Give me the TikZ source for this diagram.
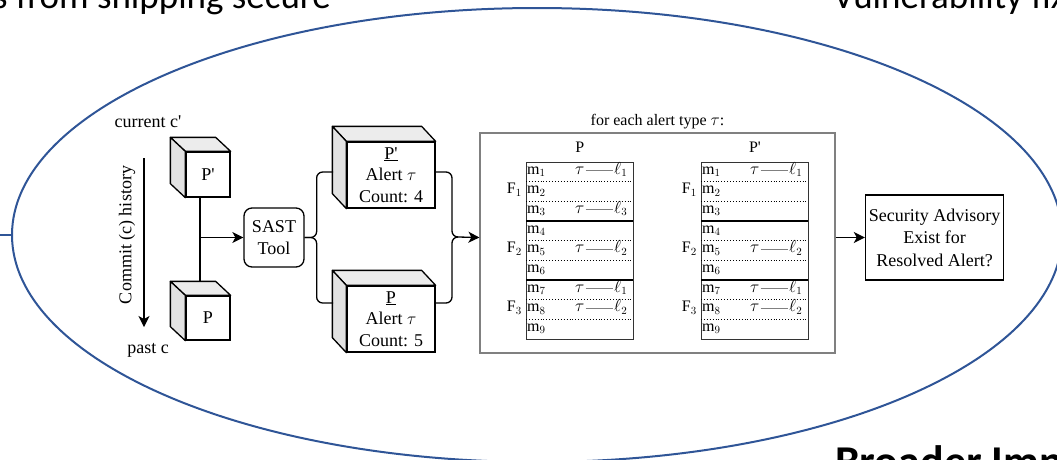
\documentclass[tikz,border=0pt]{standalone}
\usepackage{fontspec}
\setmainfont{Liberation Serif}
\newfontfamily\slidefont{Carlito}
\usetikzlibrary{arrows.meta,positioning,shapes.geometric}
\definecolor{ovalblue}{RGB}{47,85,151}
\definecolor{facegray}{RGB}{226,226,226}
\definecolor{facetop}{RGB}{236,236,236}

\begin{document}
\begin{tikzpicture}[x=1pt,y=-1pt,
    lbl/.style={font=\fontsize{18}{21.5}\selectfont},
    cell/.style={font=\fontsize{16}{18}\selectfont, inner sep=1pt},
    slide/.style={font=\slidefont\fontsize{37}{42}\selectfont, inner sep=0pt},
    front/.style={draw, fill=white, line width=1.3pt, inner sep=0pt, align=center, lbl},
    face/.style={draw, fill=facegray, line width=1.3pt, line join=round},
    wire/.style={line width=1.3pt, rounded corners=6pt},
    flow/.style={line width=1.3pt, -{Stealth[length=11pt,width=11pt,inset=3pt]}},
    tabframe/.style={draw=black!80, line width=0.8pt, minimum width=107, minimum height=177, inner sep=0pt, anchor=north west},
    link/.style={gray, line width=0.5pt},
    rowsep/.style={dotted, line width=0.9pt},
    fsep/.style={line width=2pt},
  ]
  \useasboundingbox (0,0) rectangle (1057,459);
  \clip (0,0) rectangle (1057,459);

  % slide around the figure
  \node[slide, anchor=base west] (topl) at (-7,8) {s from shipping secure};
  \node[slide, anchor=base west] (topr) at (833,8) {Vulnerability fix};
  \node[slide, font=\slidefont\bfseries\fontsize{44}{50}\selectfont, anchor=base west] (bot) at (835,476) {Broader Imp};
  \node[draw=ovalblue, line width=2pt, ellipse, minimum width=1050, minimum height=454, inner sep=0pt] (oval) at (537,235) {};
  \coordinate (stub) at (0,235);
  \draw[ovalblue, line width=2pt] (stub) -- (oval.west);

  % commit history
  \node[lbl, anchor=base] (cur) at (148,127) {current c\textquotesingle};
  \node[lbl, anchor=base] (past) at (148,353) {past c};
  \coordinate (histtop) at (144,158);
  \coordinate (histbot) at (144,327);
  \draw[flow] (histtop) -- (histbot);
  \node[lbl, rotate=90] (hist) at (127,235) {Commit (c) history};

  \node[front, minimum width=44, minimum height=45] (pnew) at (208,174.5) {P\textquotesingle};
  \draw[face, fill=facetop] (pnew.north west) -- ++(-15,-14) -- ([xshift=-15pt,yshift=14pt]pnew.north east) -- (pnew.north east) -- cycle;
  \draw[face] (pnew.north west) -- ++(-15,-14) -- ([xshift=-15pt,yshift=14pt]pnew.south west) -- (pnew.south west) -- cycle;

  \node[front, minimum width=44, minimum height=44] (pold) at (208,318) {P};
  \draw[face, fill=facetop] (pold.north west) -- ++(-15,-14) -- ([xshift=-15pt,yshift=14pt]pold.north east) -- (pold.north east) -- cycle;
  \draw[face] (pold.north west) -- ++(-15,-14) -- ([xshift=-15pt,yshift=14pt]pold.south west) -- (pold.south west) -- cycle;

  \node[draw, rounded corners=8pt, line width=1.3pt, minimum width=60, minimum height=59, align=center, lbl] (sast) at (274,237.5) {SAST\\Tool};

  \coordinate (jtop) at ([xshift=-8pt]pnew.south);
  \coordinate (jbot) at ([xshift=-8pt,yshift=14pt]pold.north);
  \draw[line width=1.3pt] (jtop) -- (jbot);
  \draw[flow] (jtop |- sast.west) -- (sast.west);

  % alert counts
  \node[front, minimum width=88, minimum height=66] (anew) at (391,175) {\underline{P\textquotesingle}\\Alert $\tau$\\Count: 4};
  \draw[face, fill=facetop] (anew.north west) -- ++(-14,-15) -- ([xshift=-14pt,yshift=15pt]anew.north east) -- (anew.north east) -- cycle;
  \draw[face] (anew.north west) -- ++(-14,-15) -- ([xshift=-14pt,yshift=15pt]anew.south west) -- (anew.south west) -- cycle;

  \node[front, minimum width=88, minimum height=66] (aold) at (391,319) {\underline{P}\\Alert $\tau$\\Count: 5};
  \draw[face, fill=facetop] (aold.north west) -- ++(-14,-15) -- ([xshift=-14pt,yshift=15pt]aold.north east) -- (aold.north east) -- cycle;
  \draw[face] (aold.north west) -- ++(-14,-15) -- ([xshift=-14pt,yshift=15pt]aold.south west) -- (aold.south west) -- cycle;

  \coordinate (anewin) at (333,172);
  \coordinate (aoldin) at (333,303);
  \coordinate (anewout) at (435,172);
  \coordinate (aoldout) at (435,303);
  \draw[wire] (sast.east) -- ([xshift=12pt]sast.east) |- (anewin);
  \draw[wire] (sast.east) -- ([xshift=12pt]sast.east) |- (aoldin);

  % per alert type comparison
  \node[draw=gray, line width=1.2pt, minimum width=355, minimum height=220, inner sep=0pt] (scan) at (657.5,243) {};
  \node[cell, above=2pt of scan] (each) {for each alert type $\tau$:};

  \draw[wire] (anewout) -| (452,237) -- (458,237);
  \draw[wire] (aoldout) -| (452,237) -- (458,237);
  \draw[flow] (458,237) -- (scan.west |- sast.east);

  \begin{scope}[shift={(526,162)}]
    \node[tabframe] (tabold) at (0,0) {};
    \node[cell, above=8pt of tabold] (hold) {P};
    \draw[rowsep] (0,19.67) -- (107,19.67);
    \draw[rowsep] (0,39.33) -- (107,39.33);
    \draw[fsep] (0,59) -- (107,59);
    \draw[rowsep] (0,78.67) -- (107,78.67);
    \draw[rowsep] (0,98.33) -- (107,98.33);
    \draw[fsep] (0,118) -- (107,118);
    \draw[rowsep] (0,137.67) -- (107,137.67);
    \draw[rowsep] (0,157.33) -- (107,157.33);
    \node[cell, anchor=base west] (mo1) at (0,12) {m$_1$};
    \node[cell, anchor=base west] (mo2) at (0,31.7) {m$_2$};
    \node[cell, anchor=base west] (mo3) at (0,51.3) {m$_3$};
    \node[cell, anchor=base west] (mo4) at (0,71) {m$_4$};
    \node[cell, anchor=base west] (mo5) at (0,90.7) {m$_5$};
    \node[cell, anchor=base west] (mo6) at (0,110.3) {m$_6$};
    \node[cell, anchor=base west] (mo7) at (0,130) {m$_7$};
    \node[cell, anchor=base west] (mo8) at (0,149.7) {m$_8$};
    \node[cell, anchor=base west] (mo9) at (0,169.3) {m$_9$};
    \node[cell, anchor=base east] (fo1) at (-3,31.7) {F$_1$};
    \node[cell, anchor=base east] (fo2) at (-3,90.7) {F$_2$};
    \node[cell, anchor=base east] (fo3) at (-3,149.7) {F$_3$};

    \node[cell, anchor=base west] (to1) at (48,12) {$\tau$};
    \node[cell, anchor=base west] (lo1) at (87,12) {$\ell_1$};
    \draw[link] (to1.east) -- (to1.east -| lo1.west);
    \node[cell, anchor=base west] (to3) at (48,51.3) {$\tau$};
    \node[cell, anchor=base west] (lo3) at (87,51.3) {$\ell_3$};
    \draw[link] (to3.east) -- (to3.east -| lo3.west);
    \node[cell, anchor=base west] (to5) at (48,90.7) {$\tau$};
    \node[cell, anchor=base west] (lo5) at (87,90.7) {$\ell_2$};
    \draw[link] (to5.east) -- (to5.east -| lo5.west);
    \node[cell, anchor=base west] (to7) at (48,130) {$\tau$};
    \node[cell, anchor=base west] (lo7) at (87,130) {$\ell_1$};
    \draw[link] (to7.east) -- (to7.east -| lo7.west);
    \node[cell, anchor=base west] (to8) at (48,149.7) {$\tau$};
    \node[cell, anchor=base west] (lo8) at (87,149.7) {$\ell_2$};
    \draw[link] (to8.east) -- (to8.east -| lo8.west);
  \end{scope}

  \begin{scope}[shift={(701,162)}]
    \node[tabframe] (tabnew) at (0,0) {};
    \node[cell, above=8pt of tabnew] (hnew) {P\textquotesingle};
    \draw[rowsep] (0,19.67) -- (107,19.67);
    \draw[rowsep] (0,39.33) -- (107,39.33);
    \draw[fsep] (0,59) -- (107,59);
    \draw[rowsep] (0,78.67) -- (107,78.67);
    \draw[rowsep] (0,98.33) -- (107,98.33);
    \draw[fsep] (0,118) -- (107,118);
    \draw[rowsep] (0,137.67) -- (107,137.67);
    \draw[rowsep] (0,157.33) -- (107,157.33);
    \node[cell, anchor=base west] (mn1) at (0,12) {m$_1$};
    \node[cell, anchor=base west] (mn2) at (0,31.7) {m$_2$};
    \node[cell, anchor=base west] (mn3) at (0,51.3) {m$_3$};
    \node[cell, anchor=base west] (mn4) at (0,71) {m$_4$};
    \node[cell, anchor=base west] (mn5) at (0,90.7) {m$_5$};
    \node[cell, anchor=base west] (mn6) at (0,110.3) {m$_6$};
    \node[cell, anchor=base west] (mn7) at (0,130) {m$_7$};
    \node[cell, anchor=base west] (mn8) at (0,149.7) {m$_8$};
    \node[cell, anchor=base west] (mn9) at (0,169.3) {m$_9$};
    \node[cell, anchor=base east] (fn1) at (-3,31.7) {F$_1$};
    \node[cell, anchor=base east] (fn2) at (-3,90.7) {F$_2$};
    \node[cell, anchor=base east] (fn3) at (-3,149.7) {F$_3$};

    \node[cell, anchor=base west] (tn1) at (48,12) {$\tau$};
    \node[cell, anchor=base west] (ln1) at (87,12) {$\ell_1$};
    \draw[link] (tn1.east) -- (tn1.east -| ln1.west);
    \node[cell, anchor=base west] (tn5) at (48,90.7) {$\tau$};
    \node[cell, anchor=base west] (ln5) at (87,90.7) {$\ell_2$};
    \draw[link] (tn5.east) -- (tn5.east -| ln5.west);
    \node[cell, anchor=base west] (tn7) at (48,130) {$\tau$};
    \node[cell, anchor=base west] (ln7) at (87,130) {$\ell_1$};
    \draw[link] (tn7.east) -- (tn7.east -| ln7.west);
    \node[cell, anchor=base west] (tn8) at (48,149.7) {$\tau$};
    \node[cell, anchor=base west] (ln8) at (87,149.7) {$\ell_2$};
    \draw[link] (tn8.east) -- (tn8.east -| ln8.west);
  \end{scope}

  % advisory check
  \node[draw, line width=1.3pt, minimum width=135, minimum height=85, align=center, font=\fontsize{18}{22.5}\selectfont] (adv) at (934.5,237.5) {Security Advisory\\Exist for\\Resolved Alert?};
  \draw[flow] (scan.east |- adv.west) -- (adv.west);
\end{tikzpicture}
\end{document}
